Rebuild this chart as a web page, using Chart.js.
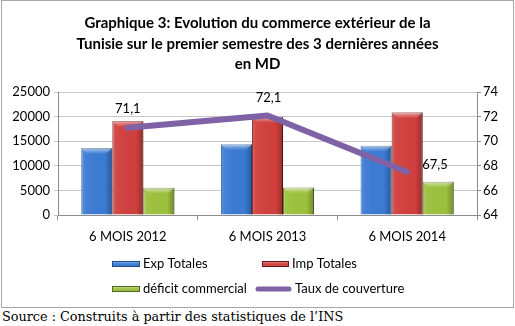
<!DOCTYPE html>
<html>
<head>
<meta charset="utf-8">
<script src="https://cdn.jsdelivr.net/npm/chart.js@4/dist/chart.umd.min.js"></script>
<style>
  html, body { margin: 0; padding: 0; background: #fff; }
  body { width: 515px; height: 326px; position: relative; overflow: hidden; }
  #frame { position: absolute; left: 1px; top: 0; width: 513px; height: 308px;
           border: 1px solid #a6a6a6; box-sizing: border-box; }
  #frame canvas { display: block; }
  #source { position: absolute; left: 2px; top: 309px; font: 12.8px "DejaVu Serif", serif;
            color: #000; white-space: nowrap; }
</style>
</head>
<body>
<div id="frame"><canvas id="c" width="511" height="306"></canvas></div>
<div id="source">Source : Construits à partir des statistiques de l’INS</div>
<script>
// Commerce extérieur, premier semestre (MD) et taux de couverture (%)
const categories = ['6 MOIS 2012', '6 MOIS 2013', '6 MOIS 2014'];
const exportations = [13600, 14400, 14100];
const importations = [19130, 19970, 20880];
const deficit = [5530, 5570, 6780];
const tauxCouverture = [71.1, 72.1, 67.5];
const leftTicks = [0, 5000, 10000, 15000, 20000, 25000];
const rightTicks = [64, 66, 68, 70, 72, 74];

const FONT = 'Lato';
const TEXT_SIZE = 13;

// Soft bevel on each bar: light left edge / top band, darker right edge
const bevelPlugin = {
  id: 'bevel',
  afterDatasetDraw(chart, args) {
    const meta = args.meta;
    if (meta.type !== 'bar') return;
    const ctx = chart.ctx;
    ctx.save();
    meta.data.forEach(el => {
      const p = el.getProps(['x', 'y', 'base', 'width'], true);
      const l = p.x - p.width / 2, r = p.x + p.width / 2;
      const t = Math.min(p.y, p.base), b = Math.max(p.y, p.base);
      const h = b - t;
      const g = ctx.createLinearGradient(l, 0, r, 0);
      g.addColorStop(0, 'rgba(255,255,255,0.18)');
      g.addColorStop(0.12, 'rgba(255,255,255,0.05)');
      g.addColorStop(0.75, 'rgba(0,0,0,0)');
      g.addColorStop(1, 'rgba(0,0,0,0.28)');
      ctx.fillStyle = g;
      ctx.fillRect(l, t, r - l, h);
      const band = Math.min(6, h);
      const gt = ctx.createLinearGradient(0, t, 0, t + band);
      gt.addColorStop(0, 'rgba(255,255,255,0.55)');
      gt.addColorStop(1, 'rgba(255,255,255,0)');
      ctx.fillStyle = gt;
      ctx.beginPath();
      ctx.moveTo(l, t);
      ctx.lineTo(r, t);
      ctx.lineTo(r - band, t + band);
      ctx.lineTo(l + band, t + band);
      ctx.closePath();
      ctx.fill();
    });
    ctx.restore();
  }
};

// Value labels for the coverage-rate line
const lineLabelPlugin = {
  id: 'lineLabels',
  afterDatasetsDraw(chart, args, opts) {
    const ctx = chart.ctx;
    chart.data.datasets.forEach((ds, di) => {
      if (ds.type !== 'line') return;
      const meta = chart.getDatasetMeta(di);
      ctx.save();
      ctx.font = `${opts.size}px ${FONT}`;
      ctx.fillStyle = '#000';
      ctx.textBaseline = 'middle';
      meta.data.forEach((pt, i) => {
        const off = opts.offsets[i];
        ctx.textAlign = off.align;
        const txt = ds.data[i].toFixed(1).replace('.', ',');
        ctx.fillText(txt, pt.x + off.dx, pt.y + off.dy);
      });
      ctx.restore();
    });
  }
};

// Two-row legend laid out in columns beneath the axis
const legendPlugin = {
  id: 'gridLegend',
  afterDraw(chart, args, opts) {
    const ctx = chart.ctx;
    const ds = chart.data.datasets;
    ctx.save();
    ctx.font = `${opts.size}px ${FONT}`;
    ctx.textBaseline = 'middle';
    ctx.textAlign = 'left';
    opts.items.forEach(it => {
      const d = ds[it.index];
      if (d.type === 'line') {
        ctx.strokeStyle = d.borderColor;
        ctx.lineWidth = 5;
        ctx.lineCap = 'round';
        ctx.beginPath();
        ctx.moveTo(it.x + 3, it.y);
        ctx.lineTo(it.x + it.w - 3, it.y);
        ctx.stroke();
      } else {
        const top = it.y - 3, hh = 6;
        ctx.fillStyle = d.backgroundColor;
        ctx.fillRect(it.x, top, it.w, hh);
        const g = ctx.createLinearGradient(0, top, 0, top + hh);
        g.addColorStop(0, 'rgba(255,255,255,0.55)');
        g.addColorStop(0.5, 'rgba(255,255,255,0)');
        g.addColorStop(1, 'rgba(0,0,0,0.25)');
        ctx.fillStyle = g;
        ctx.fillRect(it.x, top, it.w, hh);
        ctx.strokeStyle = d.borderColor;
        ctx.lineWidth = 1;
        ctx.strokeRect(it.x + 0.5, top + 0.5, it.w - 1, hh - 1);
      }
      ctx.fillStyle = '#000';
      ctx.fillText(d.label, it.x + it.w + 3, it.y);
    });
    ctx.restore();
  }
};

const tickFont = { family: FONT, size: TEXT_SIZE };
const plainNumber = v => String(v);

new Chart(document.getElementById('c'), {
  data: {
    labels: categories,
    datasets: [
      { type: 'line', label: 'Taux de couverture', data: tauxCouverture, yAxisID: 'y1',
        borderColor: '#7f62a6', borderWidth: 6, borderCapStyle: 'round', borderJoinStyle: 'round',
        pointRadius: 0, pointHoverRadius: 0, fill: false, tension: 0, order: 0 },
      { type: 'bar', label: 'Exp Totales', data: exportations, yAxisID: 'y',
        backgroundColor: '#3b7bd4', borderColor: '#1f4e8c', borderWidth: 1, order: 1 },
      { type: 'bar', label: 'Imp Totales', data: importations, yAxisID: 'y',
        backgroundColor: '#d1403d', borderColor: '#6e1614', borderWidth: 1, order: 1 },
      { type: 'bar', label: 'déficit commercial', data: deficit, yAxisID: 'y',
        backgroundColor: '#9cc13d', borderColor: '#4f6a1a', borderWidth: 1, order: 1 }
    ]
  },
  options: {
    responsive: false,
    animation: false,
    events: [],
    layout: { padding: { left: 0, right: 0, top: 0, bottom: 52 } },
    datasets: { bar: { categoryPercentage: 0.667, barPercentage: 1 } },
    plugins: {
      legend: { display: false },
      tooltip: { enabled: false },
      title: {
        display: true,
        text: ['Graphique 3: Evolution du commerce extérieur de la',
               'Tunisie sur le premier semestre des 3 dernières années',
               'en MD'],
        color: '#000',
        font: { family: FONT, size: 15, weight: 'bold', lineHeight: 1.37 },
        padding: { top: 12, bottom: 17.4 }
      },
      lineLabels: {
        size: TEXT_SIZE,
        offsets: [
          { dx: 0, dy: -19, align: 'center' },
          { dx: 1, dy: -18, align: 'center' },
          { dx: 15, dy: -7, align: 'left' }
        ]
      },
      gridLegend: {
        size: TEXT_SIZE,
        items: [
          { index: 1, x: 110, y: 263, w: 28 },
          { index: 2, x: 260, y: 263, w: 27 },
          { index: 3, x: 110, y: 288, w: 28 },
          { index: 0, x: 253, y: 288, w: 37 }
        ]
      }
    },
    scales: {
      x: {
        grid: { offset: true, drawOnChartArea: false, color: '#8c8c8c', tickLength: 5 },
        border: { color: '#8c8c8c' },
        ticks: { color: '#000', font: tickFont, padding: 9 },
        afterFit(s) { s.height = 40; }
      },
      y: {
        position: 'left', min: 0, max: 25000,
        afterBuildTicks(s) { s.ticks = leftTicks.map(v => ({ value: v })); },
        grid: { color: '#c8c8c8', tickLength: 4 },
        border: { color: '#8c8c8c' },
        ticks: { color: '#000', font: tickFont, padding: 4, callback: plainNumber },
        afterFit(s) { s.width = 56; }
      },
      y1: {
        position: 'right', min: 64, max: 74,
        afterBuildTicks(s) { s.ticks = rightTicks.map(v => ({ value: v })); },
        grid: { drawOnChartArea: false, color: '#8c8c8c', tickLength: 4 },
        border: { color: '#8c8c8c' },
        ticks: { color: '#000', font: tickFont, padding: 2, callback: plainNumber },
        afterFit(s) { s.width = 36; }
      }
    }
  },
  plugins: [bevelPlugin, lineLabelPlugin, legendPlugin]
});
</script>
</body>
</html>
